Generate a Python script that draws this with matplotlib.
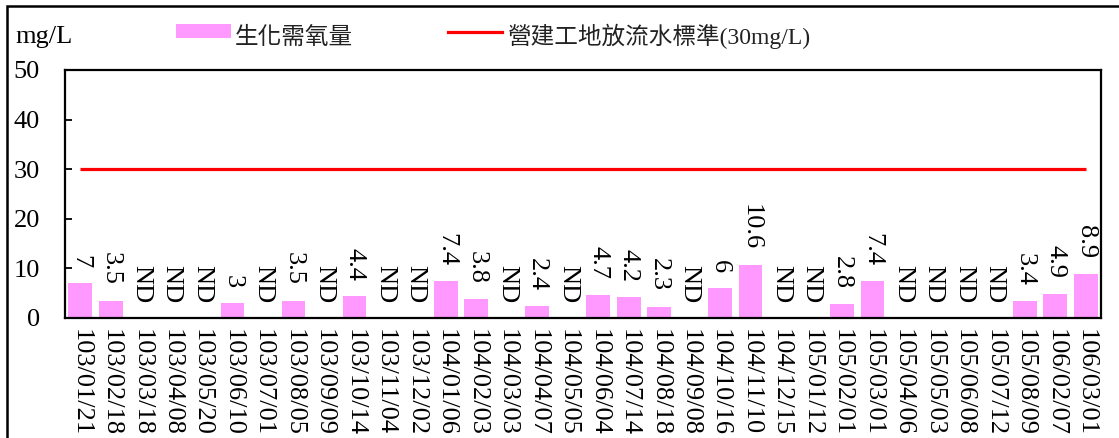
import matplotlib
matplotlib.use("Agg")
import matplotlib.pyplot as plt
from matplotlib.patches import Rectangle
from matplotlib.lines import Line2D
import numpy as np

dates = ["103/01/21", "103/02/18", "103/03/18", "103/04/08", "103/05/20", "103/06/10",
         "103/07/01", "103/08/05", "103/09/09", "103/10/14", "103/11/04", "103/12/02",
         "104/01/06", "104/02/03", "104/03/03", "104/04/07", "104/05/05", "104/06/04",
         "104/07/14", "104/08/18", "104/09/08", "104/10/16", "104/11/10", "104/12/15",
         "105/01/12", "105/02/01", "105/03/01", "105/04/06", "105/05/03", "105/06/08",
         "105/07/12", "105/08/09", "106/02/07", "106/03/01"]
bod_labels = ["7", "3.5", "ND", "ND", "ND", "3", "ND", "3.5", "ND", "4.4", "ND", "ND",
              "7.4", "3.8", "ND", "2.4", "ND", "4.7", "4.2", "2.3", "ND", "6", "10.6", "ND",
              "ND", "2.8", "7.4", "ND", "ND", "ND", "ND", "3.4", "4.9", "8.9"]
bod_values = [0.0 if s == "ND" else float(s) for s in bod_labels]
standard = [30] * len(dates)
y_ticks = [0, 10, 20, 30, 40, 50]
series_names = ["生化需氧量", "營建工地放流水標準(30mg/L)"]
unit = "mg/L"

serif = ["Liberation Serif", "DejaVu Serif"]
cjk = ["Liberation Serif", "Noto Sans CJK TC", "DejaVu Sans"]
fs = 19
fs_leg = 17

W, H = 1119, 438
fig = plt.figure(figsize=(W / 100, H / 100), dpi=100)
ax = fig.add_axes([65 / W, (H - 318) / H, (1101 - 65) / W, (318 - 70) / H])

x = np.arange(len(dates))
ax.bar(x, bod_values, width=0.78, color="#FF99FF", zorder=2)
ax.plot(x, standard, color="#FF0000", lw=2.3, zorder=3, solid_capstyle="butt")

for xi, v, s in zip(x, bod_values, bod_labels):
    ax.annotate(s, (xi, v), xytext=(0, 11), textcoords="offset points",
                rotation=270, ha="center", va="bottom", fontsize=fs,
                family=serif, zorder=4)

ax.set_xlim(-0.5, len(dates) - 0.5)
ax.set_ylim(0, 50)
ax.set_yticks(y_ticks)
ax.set_yticklabels([str(t) for t in y_ticks], fontsize=fs, family=serif)
ax.tick_params(axis="y", direction="in", length=5, width=1.3, pad=18)
ax.set_xticks(x)
ax.set_xticklabels(dates, rotation=270, fontsize=fs, family=serif, va="top", ha="center")
ax.tick_params(axis="x", length=0, pad=8)
for sp in ax.spines.values():
    sp.set_linewidth(1.6)
    sp.set_color("black")

# unit label
fig.text(15 / W, (H - 43) / H, unit, fontsize=fs, family=serif, ha="left", va="baseline")

# legend (manual)
fig.patches.append(Rectangle((176 / W, (H - 38) / H), 55 / W, 14 / H,
                             transform=fig.transFigure, facecolor="#FF99FF",
                             edgecolor="none"))
fig.text(235 / W, (H - 44) / H, series_names[0], fontsize=fs_leg, family=cjk,
         ha="left", va="baseline", color="#222222")
fig.lines.append(Line2D([448 / W, 502 / W], [(H - 32) / H] * 2, transform=fig.transFigure,
                        color="#FF0000", lw=2.3))
fig.text(508 / W, (H - 44) / H, series_names[1], fontsize=fs_leg, family=cjk,
         ha="left", va="baseline", color="#222222")

# outer frame
fig.patches.append(Rectangle((7 / W, -0.1), 1.2, (H - 6) / H + 0.1,
                             transform=fig.transFigure, facecolor="none",
                             edgecolor="black", lw=1.8, zorder=0))

fig.savefig("out.png", dpi=100)
